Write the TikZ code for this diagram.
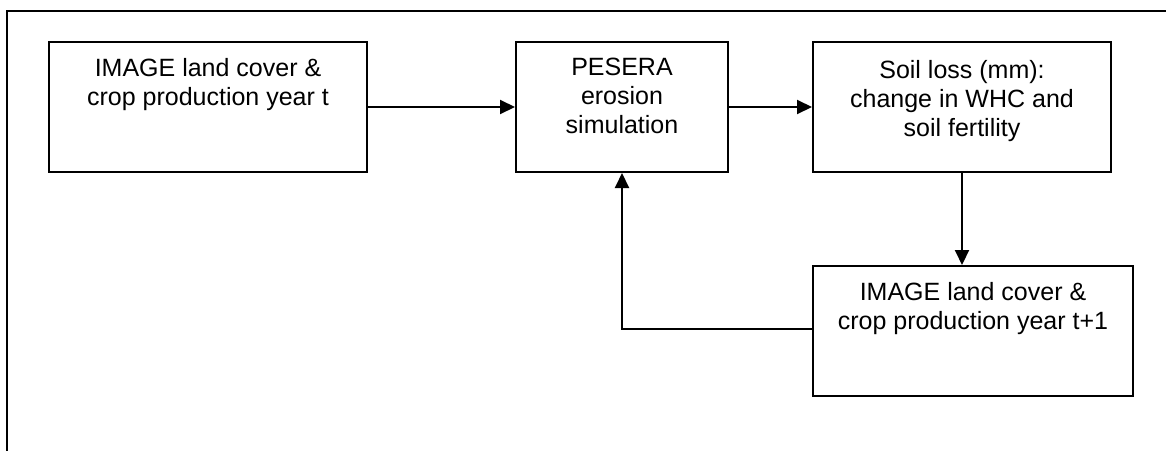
\documentclass[tikz,border=0pt]{standalone}
\usepackage{fontspec}
\setmainfont{Liberation Sans}
\usetikzlibrary{arrows.meta,positioning}

\begin{document}
\begin{tikzpicture}[x=0.5pt,y=-0.5pt,
    box/.style={draw, line width=1pt, inner sep=0pt, minimum height=65pt},
    boxtext/.style={align=center, inner sep=0pt, font=\fontsize{12.5}{14.5}\selectfont},
    flow/.style={line width=1pt, -{Triangle[length=7.5pt,width=7pt]}}]
      \clip (0,0) rectangle (1166,450);
      \draw[line width=1pt] (6.5,10.5) rectangle (1200,500);
      \node[box, minimum width=159pt] (landt) at (208,107) {};
      \node[box, minimum width=106pt] (pesera) at (622,107) {};
      \node[box, minimum width=149pt] (soilloss) at (962,107) {};
      \node[box, minimum width=160pt] (landnext) at (973,331) {};
      \node[boxtext, below=8.5pt of landt.north] {IMAGE land cover \&\\crop production year t};
      \node[boxtext, below=8.5pt of pesera.north] {PESERA\\erosion\\simulation};
      \node[boxtext, below=9.5pt of soilloss.north] {Soil loss (mm):\\change in WHC and\\soil fertility};
      \node[boxtext, below=8.5pt of landnext.north] {IMAGE land cover \&\\crop production year t+1};
      \draw[flow] (landt) -- (pesera);
      \draw[flow] (pesera) -- (soilloss);
      \draw[flow] (soilloss.south) -- (soilloss.south |- landnext.north);
      \draw[flow] ([yshift=1pt]landnext.west) -| (pesera.south);
\end{tikzpicture}
\end{document}
